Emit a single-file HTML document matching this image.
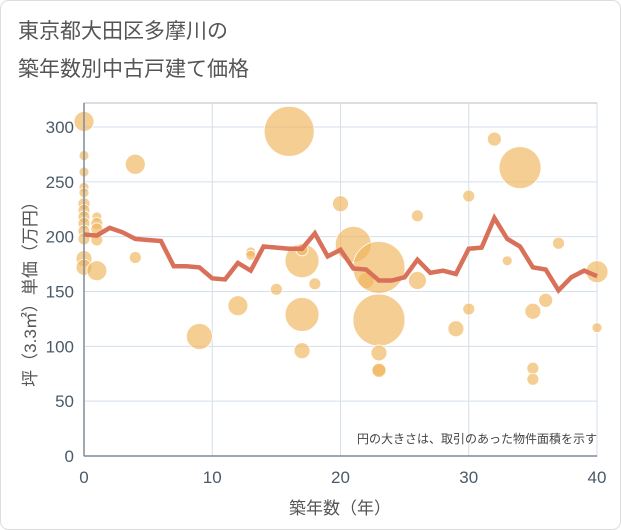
<!DOCTYPE html>
<html><head><meta charset="utf-8"><style>
body{margin:0;background:#fff;}
svg{display:block;font-family:"Liberation Sans","Noto Sans CJK JP",sans-serif;}
</style></head><body>
<svg width="621" height="530">
<rect x="0.5" y="0.5" width="620" height="529" rx="8" fill="#fff" stroke="#ddd"/>
<text x="18" y="38" font-size="21" fill="#555">東京都大田区多摩川の</text>
<text x="18" y="76" font-size="21" fill="#555">築年数別中古戸建て価格</text>
<g id="grid"></g>
<g id="bubbles"></g>
<g id="line"></g>
<g id="axes"></g>
<text x="597" y="443" font-size="12" fill="#444" text-anchor="end">円の大きさは、取引のあった物件面積を示す</text>
<text x="340" y="514" font-size="17" fill="#555" text-anchor="middle">築年数（年）</text>
<text transform="translate(36,290) rotate(-90)" font-size="17" fill="#555" text-anchor="middle">坪（3.3㎡）単価（万円）</text>
</svg>
<script>
const xTicks=[0,10,20,30,40];
const yTicks=[0,50,100,150,200,250,300];
const lineYears=[0,1,2,3,4,5,6,7,8,9,10,11,12,13,14,15,16,17,18,19,20,21,22,23,24,25,26,27,28,29,30,31,32,33,34,35,36,37,38,39,40];
const lineValues=[202,201,208,204,198,197,196,173,173,172,162,161,176,169,191,190,189,189,203,182,188,171,170,160,160,163,179,167,169,166,189,190,217,198,191,172,170,151,163,169,164];
const bubbleX=[0,0,0,0,0,0,0,0,0,0,0,0,0,1,1,1,1,1,4,4,9,12,13,13,15,16,17,17,17,17,18,20,21,22,23,23,23,23,23,26,26,29,30,30,32,33,34,35,35,35,36,37,40,40];
const bubbleY=[305,274,259,245,240,230,224,218,212,205,198,180,172,169,218,212,207,197,266,181,109,137,186,183,152,296,178,129,96,188,157,230,193,160,172,124,94,79,78,160,219,116,237,134,289,178,263,132,80,70,142,194,168,117];
const bubbleArea=[10,5,5,5,5,6,6,6,6,6,6,8,8,10,5,6,6,6,10,6,13,10,5,5,6,25,17,17,8,6,6,8,18,8,26,26,8,7,7,9,6,8,6,6,7,5,21,8,6,6,7,6,11,5];
const X0=84,X1=597,YT=103,YB=456;
const xs=v=>X0+(v/40)*(X1-X0);
const ys=v=>YB-v*(329/300);
const NS="http://www.w3.org/2000/svg";
function mk(parent,tag,attrs){const e=document.createElementNS(NS,tag);for(const k in attrs)e.setAttribute(k,attrs[k]);parent.appendChild(e);return e;}
const grid=document.getElementById('grid');
const axes=document.getElementById('axes');
mk(grid,'rect',{x:X0,y:YT,width:X1-X0,height:YB-YT,fill:'none',stroke:'#bbb'});
yTicks.forEach(t=>{
 const l=mk(grid,'line',{x1:X0,x2:X1,y1:ys(t),y2:ys(t),stroke:'#d3dfeb','stroke-width':1});
 
 
 const tx=mk(axes,'text',{x:74,y:ys(t)+6,'font-size':17,fill:'#4a5a6a','text-anchor':'end'});
 tx.textContent=t;
 
 
});
xTicks.forEach(t=>{
 const l=mk(grid,'line',{x1:xs(t),x2:xs(t),y1:YT,y2:YB,stroke:'#d3dfeb','stroke-width':1});
 
 
 const tx=mk(axes,'text',{x:xs(t),y:483,'font-size':17,fill:'#4a5a6a','text-anchor':'middle'});
 tx.textContent=t;
 
 
});
mk(axes,'line',{x1:X0,x2:X0,y1:YT,y2:YB,stroke:'#7f8c99','stroke-width':1.5});
mk(axes,'line',{x1:X0,x2:X1,y1:YB,y2:YB,stroke:'#7f8c99','stroke-width':1.5});
const bg=document.getElementById('bubbles');
bubbleX.forEach((x,i)=>{
 const c=mk(bg,'circle',{cx:xs(x),cy:ys(bubbleY[i]),r:bubbleArea[i],fill:'rgba(240,180,90,0.65)',stroke:'#fff','stroke-width':0.8});
 
 
});
const lg=document.getElementById('line');
const p=mk(lg,'polyline',{points:lineYears.map((y,i)=>xs(y)+','+ys(lineValues[i])).join(' '),fill:'none',stroke:'#d9705a','stroke-width':4.5,'stroke-linejoin':'miter'});


</script>
</body></html>
